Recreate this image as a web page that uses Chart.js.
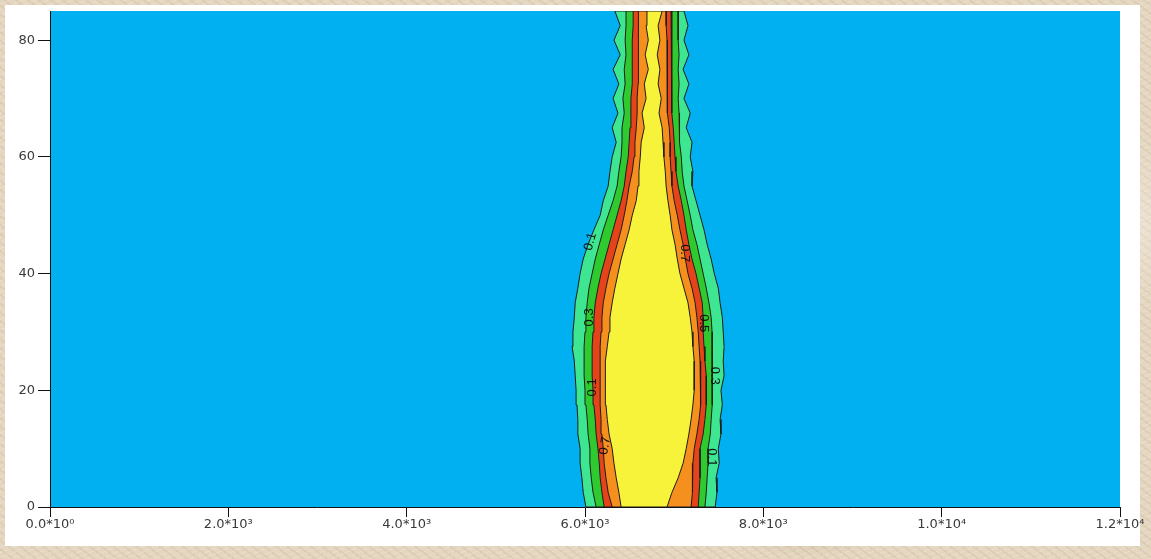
<!DOCTYPE html>
<html>
<head>
<meta charset="utf-8">
<script src="https://cdn.jsdelivr.net/npm/chart.js@4.4.1/dist/chart.umd.min.js"></script>
<style>
  html, body { margin: 0; padding: 0; }
  body {
    width: 1151px; height: 559px; overflow: hidden;
    background-color: #e4d6bf;
    background-image:
      radial-gradient(ellipse 60px 20px at 20% 30%, rgba(255,255,255,0.35), transparent),
      radial-gradient(ellipse 80px 25px at 70% 95%, rgba(160,130,95,0.25), transparent),
      radial-gradient(ellipse 40px 90px at 99% 40%, rgba(255,255,255,0.3), transparent),
      repeating-linear-gradient(37deg, rgba(150,120,90,0.10) 0 2px, transparent 2px 7px),
      repeating-linear-gradient(-23deg, rgba(255,255,255,0.18) 0 1px, transparent 1px 5px);
  }
  #wrap { position: absolute; left: 0; top: 0; width: 1151px; height: 559px; }
</style>
</head>
<body>
<div id="wrap"><canvas id="c" width="1151" height="559"></canvas></div>
<script>
// y levels (depth) at which the contour boundaries were read
const yLevels = [0, 2.5, 5, 7.5, 10, 12.5, 15, 17.5, 20, 22.5, 25, 27.5, 30, 32.5, 35, 37.5, 40, 42.5,
                 45, 47.5, 50, 52.5, 55, 57.5, 60, 62.5, 65, 67.5, 70, 72.5, 75, 77.5, 80, 82.5, 85];

// left / right edges of each contour band (x value at each y level)
const mintLeft    = [6010, 5980, 5965, 5945, 5945, 5920, 5920, 5910, 5900, 5890, 5880, 5855, 5865, 5880, 5890, 5920, 5945, 5980,
                     6035, 6100, 6170, 6205, 6260, 6280, 6305, 6350, 6305, 6370, 6315, 6380, 6315, 6395, 6325, 6395, 6335];
const mintRight   = [7460, 7480, 7470, 7505, 7495, 7525, 7515, 7540, 7525, 7560, 7550, 7560, 7550, 7540, 7515, 7495, 7450, 7415,
                     7370, 7335, 7290, 7245, 7200, 7210, 7180, 7200, 7135, 7180, 7110, 7165, 7100, 7165, 7110, 7155, 7110];
const greenLeft   = [6125, 6090, 6070, 6055, 6055, 6035, 6025, 6010, 6000, 5990, 5990, 5990, 6000, 6010, 6025, 6045, 6080, 6115,
                     6160, 6205, 6260, 6315, 6360, 6380, 6405, 6415, 6415, 6440, 6425, 6450, 6440, 6460, 6450, 6460, 6460];
const greenRight  = [7345, 7360, 7370, 7380, 7380, 7405, 7415, 7425, 7425, 7425, 7425, 7435, 7425, 7415, 7390, 7360, 7325, 7290,
                     7255, 7210, 7180, 7145, 7110, 7090, 7080, 7065, 7055, 7055, 7045, 7055, 7045, 7055, 7045, 7045, 7045];
const redLeft     = [6215, 6190, 6170, 6160, 6145, 6125, 6115, 6100, 6090, 6080, 6080, 6080, 6090, 6100, 6115, 6145, 6180, 6225,
                     6270, 6315, 6360, 6405, 6440, 6460, 6485, 6495, 6505, 6515, 6515, 6530, 6530, 6530, 6530, 6540, 6540];
const redRight    = [7270, 7280, 7290, 7290, 7290, 7325, 7345, 7360, 7360, 7360, 7345, 7335, 7325, 7325, 7315, 7280, 7245, 7200,
                     7165, 7135, 7110, 7080, 7045, 7020, 7010, 7000, 6990, 6975, 6975, 6975, 6975, 6975, 6975, 6965, 6965];
const orangeLeft  = [6305, 6260, 6235, 6215, 6205, 6190, 6180, 6170, 6170, 6170, 6170, 6170, 6180, 6190, 6205, 6235, 6270, 6315,
                     6360, 6405, 6440, 6470, 6495, 6530, 6550, 6560, 6575, 6585, 6585, 6595, 6595, 6595, 6595, 6605, 6605];
const orangeRight = [7190, 7200, 7210, 7210, 7225, 7255, 7280, 7290, 7300, 7300, 7290, 7280, 7270, 7255, 7235, 7200, 7155, 7125,
                     7100, 7065, 7035, 7000, 6975, 6965, 6955, 6955, 6945, 6930, 6930, 6920, 6920, 6920, 6920, 6910, 6910];
const yellowLeft  = [6405, 6380, 6350, 6325, 6305, 6270, 6250, 6235, 6225, 6225, 6235, 6250, 6270, 6280, 6305, 6335, 6370, 6405,
                     6450, 6495, 6530, 6575, 6595, 6605, 6620, 6630, 6665, 6640, 6685, 6665, 6710, 6675, 6710, 6685, 6695];
const yellowRight = [6920, 6975, 7045, 7100, 7135, 7165, 7190, 7210, 7225, 7225, 7225, 7210, 7200, 7180, 7155, 7110, 7065, 7035,
                     7010, 6975, 6955, 6930, 6910, 6900, 6885, 6875, 6865, 6830, 6855, 6820, 6840, 6810, 6840, 6820, 6865];

// contour labels
const labelTexts = ['0.1', '0.3', '0.1', '0.7', '0.7', '0.5', '0.3', '0.1'];
const labelX     = [6060, 6050, 6080, 6225, 7120, 7325, 7455, 7425];
const labelY     = [45.5, 32.5, 20.5, 10.5, 43.5, 31.5, 22.5, 8.5];
const labelRot   = [-75, -90, -90, -80, 90, 90, 90, 90];

// axis ticks
const xTickValues = [0, 2000, 4000, 6000, 8000, 10000, 12000];
const xTickLabels = ['0.0*10\u2070', '2.0*10\u00B3', '4.0*10\u00B3', '6.0*10\u00B3', '8.0*10\u00B3', '1.0*10\u2074', '1.2*10\u2074'];
const yTickValues = [0, 20, 40, 60, 80];

const bandColors = ['#3fe692', '#2fca2f', '#e5441a', '#f5901f', '#f7f23a'];

function polygon(left, right) {
  const pts = [];
  for (let i = 0; i < yLevels.length; i++) pts.push({ x: left[i], y: yLevels[i] });
  for (let i = yLevels.length - 1; i >= 0; i--) pts.push({ x: right[i], y: yLevels[i] });
  pts.push({ x: left[0], y: yLevels[0] });
  return pts;
}

const bands = [
  [mintLeft, mintRight],
  [greenLeft, greenRight],
  [redLeft, redRight],
  [orangeLeft, orangeRight],
  [yellowLeft, yellowRight]
];

const datasets = bands.map((b, i) => ({
  data: polygon(b[0], b[1]),
  showLine: true,
  fill: 'shape',
  backgroundColor: bandColors[i],
  borderColor: '#1c1c1c',
  borderWidth: 1,
  pointRadius: 0,
  tension: 0,
  order: bands.length - i
}));

const panelPlugin = {
  id: 'panel',
  beforeDraw(chart) {
    const ctx = chart.ctx, a = chart.chartArea;
    ctx.save();
    ctx.fillStyle = '#ffffff';
    ctx.fillRect(5, 5, 1135, 541);
    ctx.fillStyle = '#00b0f0';
    ctx.fillRect(a.left, a.top, a.right - a.left, a.bottom - a.top);
    ctx.restore();
  }
};

const labelPlugin = {
  id: 'contourLabels',
  afterDatasetsDraw(chart) {
    const ctx = chart.ctx, xs = chart.scales.x, ys = chart.scales.y;
    ctx.save();
    ctx.font = '13px "Liberation Sans", Arial, sans-serif';
    ctx.fillStyle = '#111';
    ctx.textAlign = 'center';
    ctx.textBaseline = 'middle';
    for (let i = 0; i < labelTexts.length; i++) {
      ctx.save();
      ctx.translate(xs.getPixelForValue(labelX[i]), ys.getPixelForValue(labelY[i]));
      ctx.rotate(labelRot[i] * Math.PI / 180);
      ctx.fillText(labelTexts[i], 0, 0);
      ctx.restore();
    }
    ctx.restore();
  }
};

const tickFont = { family: '"DejaVu Sans", Arial, sans-serif', size: 13 };

new Chart(document.getElementById('c'), {
  type: 'scatter',
  data: { datasets },
  options: {
    responsive: false,
    devicePixelRatio: 1,
    animation: false,
    layout: { padding: { left: 0, top: 11, right: 31, bottom: 0 } },
    plugins: { legend: { display: false }, tooltip: { enabled: false } },
    scales: {
      x: {
        type: 'linear', min: 0, max: 12000,
        afterFit(s) { s.height = 52; },
        afterBuildTicks(s) { s.ticks = xTickValues.map(v => ({ value: v })); },
        grid: { drawOnChartArea: false, drawTicks: true, tickLength: 10, color: '#111', lineWidth: 1 },
        border: { display: true, color: '#111', width: 1 },
        ticks: {
          maxRotation: 0, autoSkip: false, padding: 0,
          color: '#3a3a3a',
          font: tickFont,
          callback: (v, i) => xTickLabels[i]
        }
      },
      y: {
        type: 'linear', min: 0, max: 85,
        afterFit(s) { s.width = 50; },
        afterBuildTicks(s) { s.ticks = yTickValues.map(v => ({ value: v })); },
        grid: { drawOnChartArea: false, drawTicks: true, tickLength: 12, color: '#111', lineWidth: 1 },
        border: { display: true, color: '#111', width: 1 },
        ticks: {
          padding: 3, color: '#3a3a3a',
          font: tickFont,
          callback: (v) => String(v)
        }
      }
    }
  },
  plugins: [panelPlugin, labelPlugin]
});
</script>
</body>
</html>
